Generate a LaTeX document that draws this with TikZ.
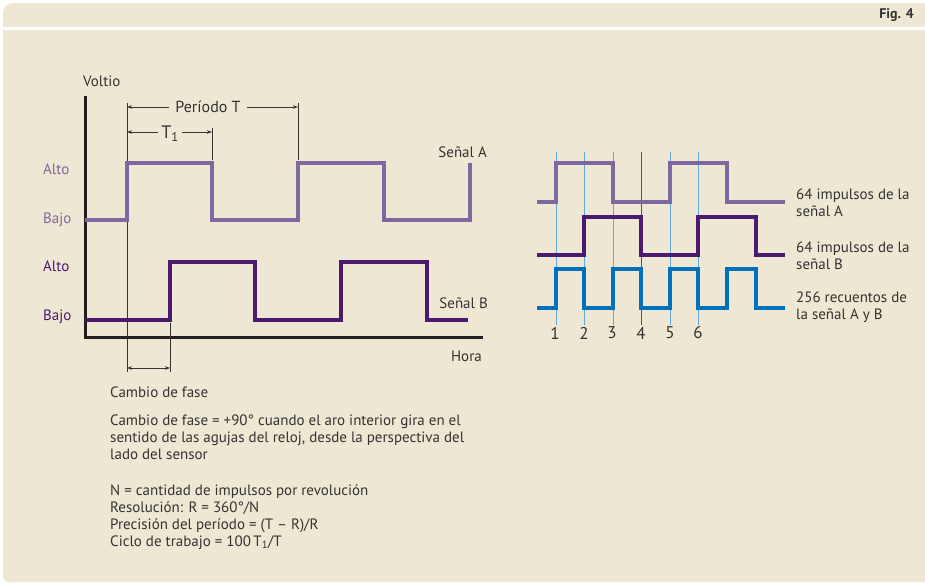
\documentclass[tikz,border=0pt]{standalone}
\usepackage{fontspec}
\setmainfont{PT Sans}
\usepackage{tikz}
\usetikzlibrary{arrows.meta,positioning}
\definecolor{paper}{RGB}{238,231,211}
\definecolor{ink}{RGB}{51,51,51}
\definecolor{axiscol}{RGB}{35,31,32}
\definecolor{sigAcol}{RGB}{127,103,160}
\definecolor{sigBcol}{RGB}{74,26,110}
\definecolor{cntcol}{RGB}{0,112,186}
\definecolor{guidecol}{RGB}{95,170,216}
\definecolor{guidedark}{RGB}{30,95,168}
\tikzset{lbl/.style={text=ink,inner sep=0pt,font=\fontsize{15}{17}\selectfont},
  num/.style={lbl,font=\fontsize{17}{17}\selectfont},
  sig/.style={line width=4pt,line cap=butt},
  thinline/.style={line width=0.8pt,ink},
  dimline/.style={line width=0.8pt,ink}}

\begin{document}
\begin{tikzpicture}[x=1pt,y=-1pt,>={Stealth[length=5pt,width=3.5pt]},line join=miter]
\useasboundingbox (0,0) rectangle (925,584);
% --- panel and header
\fill[paper,rounded corners=10pt] (3,3) rectangle (940,40);
\fill[white] (3,27) rectangle (925,30);
\fill[paper] (3,30) rectangle (940,560); \fill[paper,rounded corners=5pt] (3,540) rectangle (940,582);
\node[lbl,font=\fontsize{14}{17}\selectfont\bfseries,anchor=east] (figno) at (914,15) {Fig. 4};
% --- left: signals A and B over time
\draw[thinline] (127,103) -- (127,372); \draw[thinline] (170,323) -- (170,372);
\draw[thinline] (212,128) -- (212,160); \draw[thinline] (298,103) -- (298,160);
\draw[line width=3pt,axiscol] (85,96) -- (85,337) -- (483,337); % axes
\draw[sig,sigAcol] (85,220) -| (127,163) -| (212,220) -| (298,163) -| (384,220) -| (470,163);
\draw[sig,sigBcol] (85,320) -| (170,262) -| (255,320) -| (341,262) -| (427,320) -- (468,320);
\node[lbl,anchor=west] (voltio) at (83,81) {Voltio};
\node[lbl,anchor=east] (hora) at (482,356) {Hora};
\node[lbl,text=sigAcol,anchor=west] (altoA) at (43,169) {Alto};
\node[lbl,text=sigAcol,anchor=west] (bajoA) at (43,220) {Bajo};
\node[lbl,text=sigBcol,anchor=west] (altoB) at (43,266) {Alto};
\node[lbl,text=sigBcol,anchor=west] (bajoB) at (43,317) {Bajo};
\node[lbl,anchor=east] (senalA) at (487,152) {Señal A};
\node[lbl,anchor=east] (senalB) at (488,303) {Señal B};
% --- period, T1 and phase shift
\coordinate (pA) at (127,107); \coordinate (pB) at (298,107);
\coordinate (qA) at (127,132); \coordinate (qB) at (212,132);
\coordinate (fA) at (127,368); \coordinate (fB) at (170,368);
\node[lbl,font=\fontsize{16}{17}\selectfont,inner xsep=6pt] (perT) at (208,107) {Período T};
\draw[dimline,<-] (pA) -- (perT.west); \draw[dimline,->] (perT.east) -- (pB);
\node[lbl,font=\fontsize{18}{18}\selectfont,inner xsep=3pt] (tOne) at (170,134) {T\textsubscript{1}};
\draw[dimline,<-] (qA) -- (qA-|tOne.west); \draw[dimline,->] (qB-|tOne.east) -- (qB);
\draw[dimline,<->] (fA) -- (fB);
\node[lbl,anchor=west] (phase) at (110,392) {Cambio de fase};
\node[lbl,anchor=north west,align=left] (phasenote) at (110,415) {Cambio de fase = +90° cuando el aro interior gira en el\\sentido de las agujas del reloj, desde la perspectiva del\\lado del sensor};
\node[lbl,anchor=north west,align=left] (formulas) at (110,484) {N = cantidad de impulsos por revolución\\Resolución: R = 360°/N\\Precisión del período = (T – R)/R\\Ciclo de trabajo = 100\,T\textsubscript{1}/T};
% --- right: 4x counting
\draw[thinline,guidecol] (556,152) -- (556,325); \draw[thinline,guidecol] (584,152) -- (584,325);
\draw[thinline,guidecol] (613,152) -- (613,325); \draw[thinline,guidedark] (641,152) -- (641,325);
\draw[thinline,guidecol] (670,152) -- (670,325); \draw[thinline,guidecol] (698,152) -- (698,325);
\draw[sig,sigAcol] (537,202) -| (556,163) -| (613,202) -| (670,163) -| (727,202) -- (785,202);
\draw[sig,sigBcol] (537,255) -| (584,217) -| (641,255) -| (698,217) -| (756,255) -- (785,255);
\draw[sig,cntcol] (537,308) -| (556,269) -| (584,308) -| (613,269) -| (641,308) -| (670,269) -| (698,308) -| (727,269) -| (756,308) -- (785,308);
\node[num] (n1) at (555,333) {1}; \node[num] (n2) at (584,333) {2}; \node[num] (n3) at (612,333) {3};
\node[num] (n4) at (641,333) {4}; \node[num] (n5) at (670,333) {5}; \node[num] (n6) at (698,333) {6};
\node[lbl,anchor=west,align=left] (lblA) at (796,203) {64 impulsos de la\\señal A};
\node[lbl,anchor=west,align=left] (lblB) at (796,256) {64 impulsos de la\\señal B};
\node[lbl,anchor=west,align=left] (lblC) at (796,307) {256 recuentos de\\la señal A y B};
\end{tikzpicture}
\end{document}
